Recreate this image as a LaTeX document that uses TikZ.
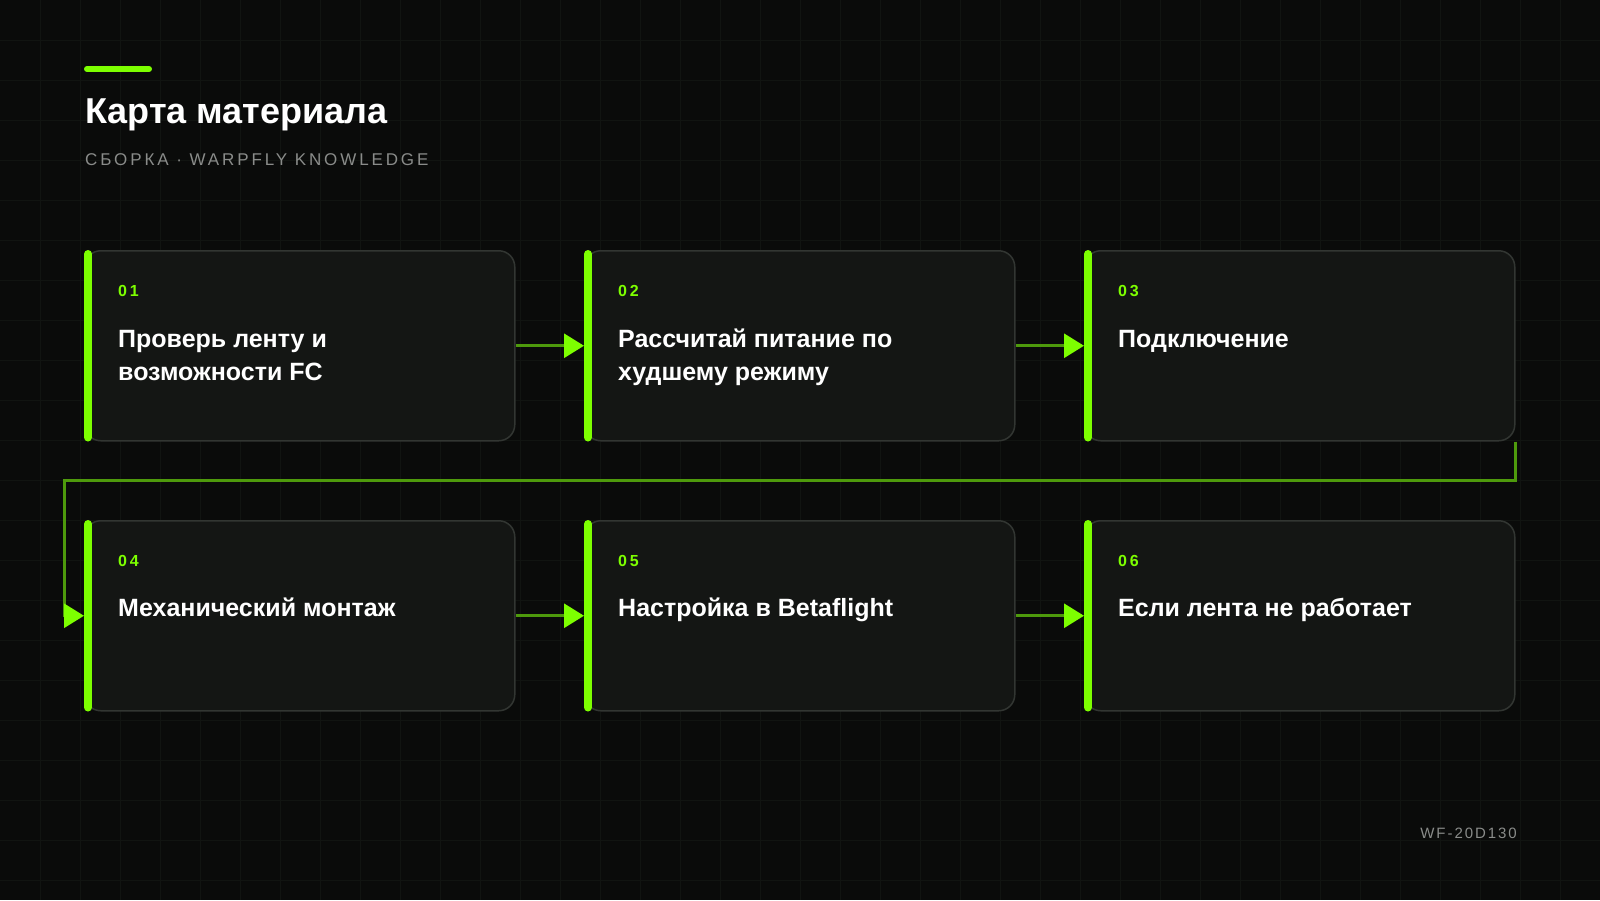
\documentclass[tikz,border=0pt]{standalone}
\usepackage{fontspec}
\setmainfont{Liberation Sans}
\usetikzlibrary{arrows.meta}
\definecolor{bgc}{HTML}{0A0B0A}
\definecolor{gridc}{HTML}{111411}
\definecolor{lime}{HTML}{7DFF00}
\definecolor{linkc}{HTML}{4E9A0C}
\definecolor{cardfill}{HTML}{141614}
\definecolor{cardline}{HTML}{323632}
\definecolor{subc}{HTML}{8A8C8A}
\begin{document}
\begin{tikzpicture}[x=1pt,y=-1pt,
  card/.style={draw=cardline, line width=1.5pt, fill=cardfill, rounded corners=16pt,
    minimum width=430pt, minimum height=190pt, inner sep=0pt, anchor=north west},
  cardbar/.style={draw=lime, line width=8pt, line cap=round},
  num/.style={anchor=base west, inner sep=0pt, text=lime,
    font=\fontsize{16}{19}\selectfont\bfseries\addfontfeatures{LetterSpace=18}},
  ttl/.style={anchor=base west, inner sep=0pt, text=white, align=left,
    font=\fontsize{25}{33}\selectfont\bfseries},
  link/.style={draw=linkc, line width=3pt, -{Triangle[length=20pt,width=24pt,color=lime]}},
  gridline/.style={draw=gridc, line width=1pt},
]
\useasboundingbox (0,0) rectangle (1600,900);
\fill[bgc] (0,0) rectangle (1600,900);
\foreach \x in {40,80,...,1560} \draw[gridline] (\x,0) -- (\x,900);
\foreach \y in {40,80,...,880} \draw[gridline] (0,\y) -- (1600,\y);

% header
\draw[lime, line width=6pt, line cap=round] (87,69) -- (149,69);
\node[anchor=base west, inner sep=0pt, text=white, font=\fontsize{36}{40}\selectfont\bfseries] (title) at (85,123) {Карта материала};
\node[anchor=base west, inner sep=0pt, text=subc, font=\fontsize{17}{20}\selectfont\addfontfeatures{LetterSpace=17}] (sub) at (85,165) {СБОРКА · WARPFLY KNOWLEDGE};

% cards
\node[card] (b1) at (84,250) {};
\node[card] (b2) at (584,250) {};
\node[card] (b3) at (1084,250) {};
\node[card] (b4) at (84,520) {};
\node[card] (b5) at (584,520) {};
\node[card] (b6) at (1084,520) {};
\foreach \b in {b1,b2,b3,b4,b5,b6}
  \draw[cardbar] ([xshift=4pt,yshift=-4pt]\b.north west) -- ([xshift=4pt,yshift=4pt]\b.south west);

\node[num] (n1) at (118,296) {01};
\node[ttl] (t1) at (118,380) {Проверь ленту и\\возможности FC};
\node[num] (n2) at (618,296) {02};
\node[ttl] (t2) at (618,380) {Рассчитай питание по\\худшему режиму};
\node[num] (n3) at (1118,296) {03};
\node[ttl] (t3) at (1118,347) {Подключение};
\node[num] (n4) at (118,566) {04};
\node[ttl] (t4) at (118,616) {Механический монтаж};
\node[num] (n5) at (618,566) {05};
\node[ttl] (t5) at (618,616) {Настройка в Betaflight};
\node[num] (n6) at (1118,566) {06};
\node[ttl] (t6) at (1118,616) {Если лента не работает};

% connectors
\draw[link] (b1.east) -- (b2.west);
\draw[link] (b2.east) -- (b3.west);
\coordinate (k1) at (64,480);
\draw[link] (b3.south east) |- (k1) |- (b4.west);
\draw[link] (b4.east) -- (b5.west);
\draw[link] (b5.east) -- (b6.west);

% footer
\node[anchor=base east, inner sep=0pt, text=subc, font=\fontsize{15}{18}\selectfont\addfontfeatures{LetterSpace=13}] (code) at (1517,838) {WF-20D130};
\end{tikzpicture}
\end{document}
